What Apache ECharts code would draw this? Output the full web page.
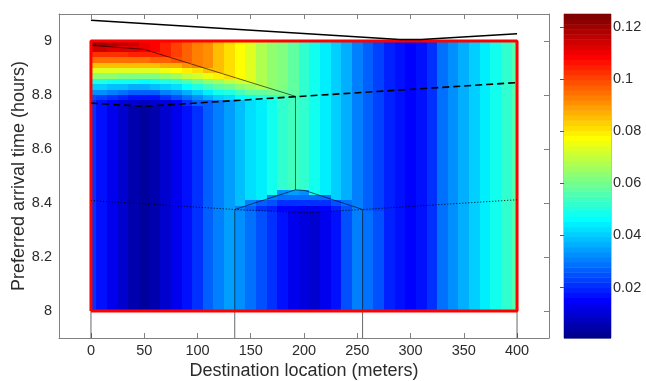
<!DOCTYPE html>
<html><head><meta charset="utf-8">
<script src="https://cdn.jsdelivr.net/npm/echarts@6/dist/echarts.min.js"></script>
<style>html,body{margin:0;padding:0;background:#fff}#c{width:646px;height:381px}</style>
</head><body><div id="c"></div>
<script>
// ---------------- data ----------------
const xCols = [0,10,20,30,40,50,60,70,80,90,100,110,120,130,140,150,160,170,180,190,200,
               210,220,230,240,250,260,270,280,290,300,310,320,330,340,350,360,370,380,390,400];
// middle band (y 8.37 - 9.0)
const midValues = [0.021,0.017,0.013,0.009,0.005,0.0027,0.005,0.009,0.013,0.017,0.022,0.026,0.030,0.034,
                   0.038,0.042,0.045,0.049,0.053,0.055,0.052,0.048,0.044,0.040,0.036,0.031,0.027,0.023,
                   0.019,0.0165,0.016,0.018,0.022,0.028,0.032,0.036,0.040,0.045,0.048,0.052,0.056];
// lower band (y 8.0 - 8.37)
const lowValues = [0.021,0.017,0.013,0.009,0.005,0.0027,0.005,0.009,0.013,0.017,0.022,0.026,0.030,0.034,
                   0.033,0.029,0.025,0.021,0.017,0.013,0.011,0.010,0.013,0.017,0.024,0.031,0.029,0.024,
                   0.019,0.0165,0.016,0.018,0.022,0.028,0.032,0.036,0.040,0.045,0.048,0.052,0.056];
// bump zone under the peaked polygon
const bumpCols = [140,150,160,170,180,190,200,210,220,230,240,250];
const bumpRows = [8.38, 8.40, 8.42, 8.44];
const bumpValues = [
  [0.031,0.026,0.022,0.019,0.016,0.015,0.014,0.014,0.016,0.019,0.025,0.030],
  [null,0.030,0.027,0.024,0.022,0.021,0.021,0.021,0.022,0.024,0.028,null],
  [null,null,null,0.030,0.029,0.028,0.028,0.028,0.028,null,null,null],
  [null,null,null,null,0.033,0.035,0.033,null,null,null,null,null]
];
// top-left zone
const topCols = [0,10,20,30,40,50,60,70,80,90,100,110,120,130,140,150,160,170,180,190];
const topRows = [8.99,8.97,8.95,8.93,8.91,8.89,8.87,8.85,8.83,8.81,8.79,8.77];
const topValues = [
  [0.123,0.121,0.119,0.117,0.114,0.111,0.108,0.104,0.100,0.096,0.093,0.090,0.086,0.082,0.077,0.073,0.068,0.064,0.061,0.057],
  [0.114,0.114,0.113,0.113,0.112,0.111,0.108,0.104,0.100,0.096,0.093,0.090,0.086,0.082,0.077,0.073,0.068,0.064,0.061,0.057],
  [0.103,0.103,0.103,0.103,0.104,0.104,0.104,0.104,0.100,0.096,0.093,0.090,0.086,0.082,0.077,0.073,0.068,0.064,0.061,0.057],
  [0.094,0.094,0.094,0.095,0.095,0.095,0.096,0.097,0.098,0.096,0.093,0.090,0.086,0.082,0.077,0.073,0.068,0.064,0.061,0.057],
  [0.085,0.085,0.085,0.085,0.085,0.085,0.086,0.087,0.088,0.090,0.092,0.090,0.086,0.082,0.077,0.073,0.068,0.064,0.061,0.057],
  [0.074,0.074,0.074,0.073,0.073,0.073,0.074,0.076,0.078,0.080,0.082,0.086,0.086,0.082,0.077,0.073,0.068,0.064,0.061,0.057],
  [0.064,0.063,0.063,0.062,0.062,0.061,0.062,0.064,0.066,0.069,0.072,0.076,0.080,0.081,0.077,0.073,0.068,0.064,0.061,0.057],
  [0.051,0.050,0.049,0.048,0.048,0.047,0.048,0.050,0.053,0.056,0.059,0.063,0.066,0.069,0.072,0.073,0.068,0.064,0.061,0.057],
  [0.041,0.040,0.039,0.038,0.037,0.037,0.038,0.040,0.043,0.046,0.050,0.054,0.057,0.060,0.063,0.066,0.067,0.064,0.061,0.057],
  [0.033,0.032,0.030,0.029,0.027,0.026,0.027,0.030,0.033,0.037,0.041,0.044,0.048,0.051,0.054,0.057,0.058,0.059,0.060,0.057],
  [0.025,0.023,0.021,0.019,0.018,0.017,0.018,0.021,0.025,0.029,0.033,0.036,0.040,0.043,0.046,0.049,0.051,0.053,0.054,null],
  [0.021,0.018,0.015,0.012,0.010,0.008,0.009,0.012,0.016,0.021,0.026,null,null,null,null,null,null,null,null,null]
];
const lowBand = [8.0, 8.37];
const midBand = [8.37, 9.0];
const xTicks = [0,50,100,150,200,250,300,350,400];
const yTicks = [8,8.2,8.4,8.6,8.8,9];
const cTicks = [0.02,0.04,0.06,0.08,0.1,0.12];
const colorMin = 0.0007, colorMax = 0.1249;
// overlay lines
const upperLineX = [0,290,310,400],      upperLineY = [9.077,9.006,9.006,9.027];
const dashedX = [0,50,400],              dashedY = [8.770,8.758,8.846];
const dottedX = [0,135,200,255,400],     dottedY = [8.409,8.376,8.364,8.376,8.412];
const pathAX = [0,0,50,192,192,135,135], pathAY = [7.9,8.984,8.969,8.795,8.449,8.376,7.9];
const pathBX = [192,201,255,255],        pathBY = [8.449,8.446,8.376,7.9];
const pathCX = [400,400],                pathCY = [8.846,7.9];
const boxX = [0,400,400,0,0],            boxY = [8,8,9,9,8];

// ---------------- helpers ----------------
function jet(m){
  const n = Math.ceil(m/4), u = [];
  for (let i=1;i<=n;i++) u.push(i/n);
  for (let i=0;i<n-1;i++) u.push(1);
  for (let i=n;i>=1;i--) u.push(i/n);
  const off = Math.ceil(n/2) - (m%4===1?1:0);
  const J = Array.from({length:m},()=>[0,0,0]);
  for (let k=0;k<u.length;k++){
    const g = off+k+1, r = g+n, b = g-n;
    if (g>=1&&g<=m) J[g-1][1]=u[k];
    if (r>=1&&r<=m) J[r-1][0]=u[k];
    if (b>=1&&b<=m) J[b-1][2]=u[k];
  }
  return J.map(c=>'rgb('+c.map(v=>Math.round(v*255)).join(',')+')');
}
const JET = jet(64);
function colorFor(v){
  let i = Math.floor((v-colorMin)/(colorMax-colorMin)*64);
  i = Math.max(0, Math.min(63, i));
  return JET[i];
}
const half = 5, rowHalf = 0.01;
const cells = [];
function addCell(xc, y0, y1, v){
  if (v === null || v === undefined) return;
  cells.push([Math.max(0, xc-half), Math.min(400, xc+half), y0, y1, v]);
}
xCols.forEach((x,i)=>{ addCell(x, midBand[0], midBand[1], midValues[i]); addCell(x, lowBand[0], lowBand[1], lowValues[i]); });
bumpRows.forEach((y,r)=>bumpCols.forEach((x,c)=>addCell(x, y-rowHalf, y+rowHalf, bumpValues[r][c])));
topRows.forEach((y,r)=>topCols.forEach((x,c)=>addCell(x, y-rowHalf, Math.min(9, y+rowHalf), topValues[r][c])));

const zip = (a,b)=>a.map((v,i)=>[v,b[i]]);
const barBins = Array.from({length:64},(_,i)=>[i]);

const FONT = 'Liberation Sans, Arial, sans-serif';
const AX = '#808080', TX = '#2b2b2b';

const chart = echarts.init(document.getElementById('c'), null, {renderer:'canvas'});
chart.setOption({
  animation:false,
  backgroundColor:'#fff',
  grid:[
    {left:59, top:14, width:490, height:324, containLabel:false, outerBoundsMode:'none'},
    {left:564, top:14, width:47, height:324, show:true, borderColor:AX, borderWidth:1, backgroundColor:'transparent', outerBoundsMode:'none'}
  ],
  xAxis:[
    {type:'value', gridIndex:0, min:-30, max:430, position:'bottom',
     axisLine:{onZero:false, lineStyle:{color:AX}},
     axisTick:{inside:true, length:5, customValues:xTicks, lineStyle:{color:AX}},
     axisLabel:{customValues:xTicks, margin:5, color:TX, fontSize:14.5, fontFamily:FONT},
     splitLine:{show:false},
     name:'Destination location (meters)', nameLocation:'middle', nameGap:24, nameMoveOverlap:false,
     nameTextStyle:{fontSize:18, color:TX, fontFamily:FONT}},
    {type:'value', gridIndex:0, min:-30, max:430, position:'top',
     axisLine:{onZero:false, lineStyle:{color:AX}},
     axisTick:{inside:true, length:5, customValues:xTicks, lineStyle:{color:AX}},
     axisLabel:{show:false}, splitLine:{show:false}},
    {type:'value', gridIndex:1, min:0, max:1, show:false}
  ],
  yAxis:[
    {type:'value', gridIndex:0, min:7.9, max:9.1, position:'left',
     axisLine:{onZero:false, lineStyle:{color:AX}},
     axisTick:{show:false},
     axisLabel:{customValues:yTicks, margin:7, color:TX, fontSize:14.5, fontFamily:FONT,
                formatter:v=>String(Math.round(v*10)/10)},
     splitLine:{show:false},
     name:'Preferred arrival time (hours)', nameLocation:'middle', nameGap:31, nameRotate:90, nameMoveOverlap:false,
     nameTextStyle:{fontSize:18, color:TX, fontFamily:FONT}},
    {type:'value', gridIndex:0, min:7.9, max:9.1, position:'right',
     axisLine:{onZero:false, lineStyle:{color:AX}},
     axisTick:{inside:true, length:5, customValues:yTicks, lineStyle:{color:AX}},
     axisLabel:{show:false}, splitLine:{show:false}},
    {type:'value', gridIndex:1, min:colorMin, max:colorMax, position:'right',
     axisLine:{show:false},
     axisTick:{inside:true, length:4, customValues:cTicks, lineStyle:{color:'#555'}},
     axisLabel:{customValues:cTicks, margin:2, color:TX, fontSize:14.5, fontFamily:FONT,
                formatter:v=>String(Math.round(v*100)/100)},
     splitLine:{show:false}},
    {type:'value', gridIndex:1, min:colorMin, max:colorMax, position:'left',
     axisLine:{show:false},
     axisTick:{inside:true, length:4, customValues:cTicks, lineStyle:{color:'#555'}},
     axisLabel:{show:false}, splitLine:{show:false}}
  ],
  series:[
    {type:'custom', xAxisIndex:0, yAxisIndex:0, z:1, silent:true, data:cells,
     encode:{x:[0,1], y:[2,3]},
     renderItem:(params, api)=>{
       const p0 = api.coord([api.value(0), api.value(3)]);
       const p1 = api.coord([api.value(1), api.value(2)]);
       const x0 = Math.round(p0[0]), y0 = Math.round(p0[1]);
       const x1 = Math.round(p1[0]), y1 = Math.round(p1[1]);
       return {type:'rect', shape:{x:x0, y:y0, width:x1-x0, height:y1-y0},
               style:{fill:colorFor(api.value(4))}};
     }},
    {type:'line', xAxisIndex:0, yAxisIndex:0, z:3, data:zip(pathAX,pathAY), showSymbol:false, silent:true,
     lineStyle:{color:'rgba(0,0,0,0.6)', width:1}},
    {type:'line', xAxisIndex:0, yAxisIndex:0, z:3, data:zip(pathBX,pathBY), showSymbol:false, silent:true,
     lineStyle:{color:'rgba(0,0,0,0.6)', width:1}},
    {type:'line', xAxisIndex:0, yAxisIndex:0, z:3, data:zip(pathCX,pathCY), showSymbol:false, silent:true,
     lineStyle:{color:'rgba(0,0,0,0.6)', width:1}},
    {type:'line', xAxisIndex:0, yAxisIndex:0, z:4, data:zip(boxX,boxY), showSymbol:false, silent:true,
     lineStyle:{color:'#ff0000', width:3}},
    {type:'line', xAxisIndex:0, yAxisIndex:0, z:5, data:zip(dottedX,dottedY), showSymbol:false, silent:true,
     lineStyle:{color:'#000', width:1, type:[1,2]}},
    {type:'line', xAxisIndex:0, yAxisIndex:0, z:5, data:zip(dashedX,dashedY), showSymbol:false, silent:true,
     lineStyle:{color:'#000', width:1.6, type:[7,4]}},
    {type:'line', xAxisIndex:0, yAxisIndex:0, z:5, data:zip(upperLineX,upperLineY), showSymbol:false, silent:true,
     lineStyle:{color:'#000', width:1.5}},
    {type:'custom', xAxisIndex:2, yAxisIndex:2, z:1, silent:true, data:barBins,
     renderItem:(params, api)=>{
       const i = api.value(0);
       const step = (colorMax-colorMin)/64;
       const pTop = api.coord([0, colorMin+(i+1)*step]);
       const pBot = api.coord([1, colorMin+i*step]);
       return {type:'rect', shape:{x:pTop[0], y:pTop[1], width:pBot[0]-pTop[0], height:pBot[1]-pTop[1]+0.5},
               style:{fill:JET[i]}};
     }}
  ]
});
</script></body></html>
